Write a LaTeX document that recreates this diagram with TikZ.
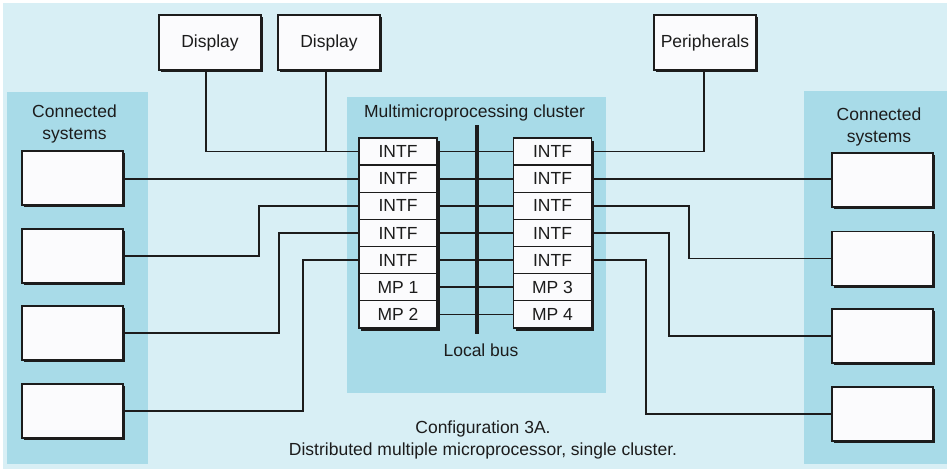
\documentclass[tikz,border=0pt]{standalone}
\usepackage{fontspec}
\setmainfont{Liberation Sans}
\usetikzlibrary{shadows}
\definecolor{paper}{HTML}{D8EFF5}
\definecolor{panel}{HTML}{A8DBE8}
\definecolor{ink}{HTML}{1C1C1C}
\definecolor{boxfill}{HTML}{FBFBFD}
\begin{document}
\begin{tikzpicture}[x=1pt,y=-1pt,
  every node/.style={font=\fontsize{17.5}{22}\selectfont, text=ink},
  wire/.style={draw=ink, line width=1.6pt},
  unit/.style={draw=ink, line width=1.3pt, fill=boxfill, minimum width=101pt,
    minimum height=54pt, inner sep=0pt,
    general shadow={fill=ink, shadow xshift=2.2pt, shadow yshift=-2.2pt}},
  cell/.style={draw=ink, line width=1.3pt, fill=boxfill, minimum width=78pt,
    minimum height=27.14pt, inner sep=0pt},
  label/.style={align=center, inner sep=0pt}]

% backdrop and shaded regions
\useasboundingbox (0,0) rectangle (947,469);
\fill[white] (0,0) rectangle (947,469);
\fill[paper] (3,3) rectangle (947,469);
\fill[panel] (7,92) rectangle (148,464);
\fill[panel] (347,97) rectangle (606,393);
\fill[panel] (804,91) rectangle (947,464);

% top devices
\node[unit, minimum width=102pt, minimum height=55pt] (D1) at (210,42.5) {Display};
\node[unit, minimum width=102pt, minimum height=55pt] (D2) at (329,42.5) {Display};
\node[unit, minimum width=102pt, minimum height=55pt] (P) at (705,42.5) {Peripherals};

% region captions
\node[label] (lcs) at (74.5,124) {Connected\\systems};
\node[label] (rcs) at (879,127) {Connected\\systems};
\node[label] (mc) at (474.5,113) {Multimicroprocessing cluster};
\node[label] (lb) at (481,350) {Local bus};
\node[label] (cap) at (483,440) {Configuration 3A.\\Distributed multiple microprocessor, single cluster.};

% local bus
\coordinate (bustop) at (477,125);
\coordinate (busbot) at (477,334);
\draw[ink, line width=3.5pt] (bustop) -- (busbot);

% shadows under the two interface columns
\fill[ink] (361,141) rectangle (440.2,331);
\fill[ink] (516,141) rectangle (594.2,331);

% interface columns
\foreach \i/\t in {1/INTF,2/INTF,3/INTF,4/INTF,5/INTF,6/MP 1,7/MP 2}{
  \node[cell] (L\i) at (398,{138+27.14*(\i-0.5)}) {\t};
}
\foreach \i/\t in {1/INTF,2/INTF,3/INTF,4/INTF,5/INTF,6/MP 3,7/MP 4}{
  \node[cell] (R\i) at (552.5,{138+27.14*(\i-0.5)}) {\t};
}

% bus taps
\foreach \i in {1,...,7}{
  \draw[wire] (L\i.east) -- (R\i.west);
}

% connected systems, left and right
\node[unit] (A1) at (72.5,178) {};
\node[unit] (A2) at (72.5,256) {};
\node[unit] (A3) at (72.5,333) {};
\node[unit] (A4) at (72.5,411) {};
\node[unit] (B1) at (882.5,180) {};
\node[unit] (B2) at (882.5,258.5) {};
\node[unit] (B3) at (882.5,336) {};
\node[unit] (B4) at (882.5,414) {};

% turning columns of the routed wires
\coordinate (kd1) at (206,0);
\coordinate (kd2) at (326,0);
\coordinate (kp) at (704,0);
\coordinate (ka2) at (259,0);
\coordinate (ka3) at (279,0);
\coordinate (ka4) at (303,0);
\coordinate (kb2) at (689,0);
\coordinate (kb3) at (669,0);
\coordinate (kb4) at (646,0);

% displays and peripherals
\draw[wire] (kd1 |- D1.south) -- (kd1 |- L1.west) -- (L1.west);
\draw[wire] (kd2 |- D2.south) -- (kd2 |- L1.west);
\draw[wire] (kp |- P.south) -- (kp |- R1.east) -- (R1.east);

% left connected systems
\draw[wire] (A1.east |- L2.west) -- (L2.west);
\draw[wire] (A2.east) -| (ka2 |- L3.west) -- (L3.west);
\draw[wire] (A3.east) -| (ka3 |- L4.west) -- (L4.west);
\draw[wire] (A4.east) -| (ka4 |- L5.west) -- (L5.west);

% right connected systems
\draw[wire] (R2.east) -- (B1.west |- R2.east);
\draw[wire] (R3.east) -| (kb2 |- B2.west) -- (B2.west);
\draw[wire] (R4.east) -| (kb3 |- B3.west) -- (B3.west);
\draw[wire] (R5.east) -| (kb4 |- B4.west) -- (B4.west);
\end{tikzpicture}
\end{document}
